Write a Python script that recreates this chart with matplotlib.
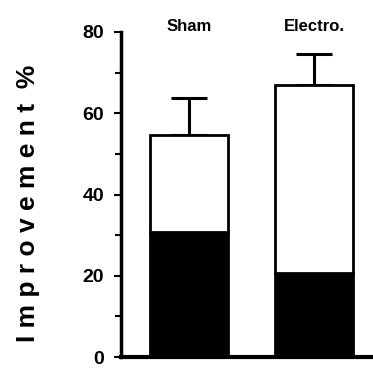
import matplotlib.pyplot as plt
from matplotlib.ticker import MultipleLocator

groups = ["Sham", "Electro."]
black_part = [30.8, 20.7]
total = [54.7, 67.0]
err_up = [9.1, 7.6]

plt.rcParams['font.family'] = ['Liberation Sans', 'DejaVu Sans']

fig = plt.figure(figsize=(3.73, 3.68), dpi=100)
ax = fig.add_axes([121 / 373, 11 / 368, 252 / 373, 325 / 368])

x = [0, 1]
w = 0.62
white_part = [t - b for t, b in zip(total, black_part)]
ax.bar(x, black_part, width=w, color='black', edgecolor='black', linewidth=2, zorder=2)
ax.bar(x, white_part, width=w, bottom=black_part, color='white', edgecolor='black',
       linewidth=2, zorder=2)
ax.errorbar(x, total, yerr=[[0, 0], err_up], fmt='none', ecolor='black',
            elinewidth=2.2, capsize=13, capthick=2.2, zorder=1)

for xi, g in zip(x, groups):
    ax.text(xi, 81.3, g, ha='center', va='center', fontsize=12, fontweight='bold',
            clip_on=False)

ax.set_xlim(-0.544, 1.472)
ax.set_ylim(0, 80)
ax.yaxis.set_major_locator(MultipleLocator(20))
ax.yaxis.set_minor_locator(MultipleLocator(10))
ax.set_xticks([])
ax.tick_params(axis='y', which='both', direction='out', width=1.5, labelsize=14)
ax.tick_params(axis='y', which='major', length=5, pad=7)
ax.tick_params(axis='y', which='minor', length=4)
for lab in ax.get_yticklabels():
    lab.set_fontweight('bold')
ax.spines['top'].set_visible(False)
ax.spines['right'].set_visible(False)
ax.spines['left'].set_linewidth(2.5)
ax.spines['bottom'].set_linewidth(3)

# spaced-out axis title, as in the scanned figure
fig.text(28 / 373, 1 - 203 / 368, "I m p r o v e m e n t  %", rotation=90,
         ha='center', va='center', fontsize=19, fontweight='bold')

fig.savefig("out.png", dpi=100)
